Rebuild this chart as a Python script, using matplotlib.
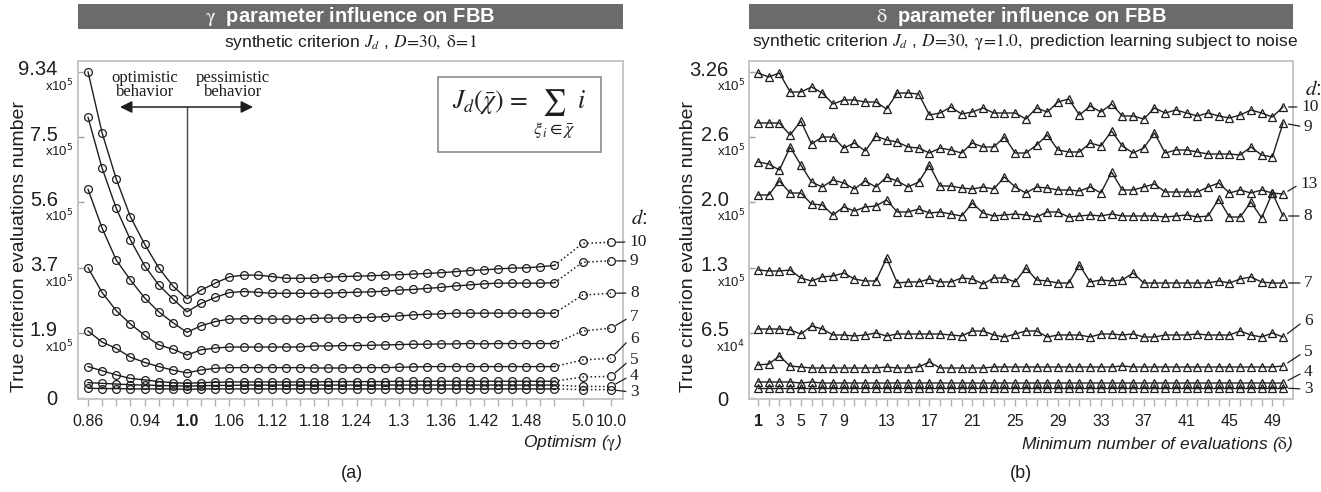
import numpy as np
import matplotlib
matplotlib.use("Agg")
import matplotlib.pyplot as plt
from matplotlib.patches import Rectangle
from matplotlib.transforms import ScaledTranslation
from matplotlib import font_manager

plt.rcParams['font.family'] = ['Liberation Sans', 'DejaVu Sans']
plt.rcParams['mathtext.fontset'] = 'stix'

# ---------------- data : panel (a) ----------------
gamma_values = [0.86, 0.88, 0.90, 0.92, 0.94, 0.96, 0.98, 1.00, 1.02, 1.04,
                1.06, 1.08, 1.10, 1.12, 1.14, 1.16, 1.18, 1.20, 1.22, 1.24,
                1.26, 1.28, 1.30, 1.32, 1.34, 1.36, 1.38, 1.40, 1.42, 1.44,
                1.46, 1.48, 1.50, 1.52, 5.0, 10.0]
gamma_tick_values = [0.86, 0.94, 1.00, 1.06, 1.12, 1.18, 1.24, 1.30, 1.36, 1.42, 1.48, 5.0, 10.0]
gamma_tick_labels = ['0.86', '0.94', '1.0', '1.06', '1.12', '1.18', '1.24', '1.3', '1.36', '1.42', '1.48', '5.0', '10.0']

# true criterion evaluations (x 1e5), one list per subset size d
gam_d10 = [9.34, 7.59, 6.27, 5.19, 4.41, 3.73, 3.21, 2.84, 3.09, 3.29, 3.47, 3.52, 3.52, 3.48, 3.43, 3.43, 3.43, 3.46,
           3.48, 3.49, 3.50, 3.52, 3.53, 3.55, 3.57, 3.59, 3.62, 3.65, 3.67, 3.70, 3.72, 3.73, 3.76, 3.80, 4.43, 4.46]
gam_d9 = [8.04, 6.58, 5.43, 4.53, 3.79, 3.24, 2.84, 2.47, 2.71, 2.88, 3.02, 3.05, 3.03, 3.00, 3.00, 3.00, 3.00, 3.00,
          3.02, 3.03, 3.04, 3.06, 3.09, 3.11, 3.14, 3.17, 3.21, 3.24, 3.27, 3.29, 3.29, 3.29, 3.29, 3.30, 3.89, 3.93]
gam_d8 = [5.98, 4.86, 3.95, 3.38, 2.87, 2.47, 2.16, 1.88, 2.07, 2.19, 2.26, 2.27, 2.27, 2.26, 2.26, 2.26, 2.28, 2.29,
          2.29, 2.30, 2.31, 2.33, 2.35, 2.38, 2.40, 2.41, 2.43, 2.43, 2.43, 2.43, 2.43, 2.43, 2.43, 2.43, 2.95, 3.00]
gam_d7 = [3.73, 3.02, 2.50, 2.12, 1.80, 1.52, 1.40, 1.23, 1.38, 1.43, 1.46, 1.46, 1.46, 1.46, 1.46, 1.46, 1.49, 1.49,
          1.50, 1.50, 1.51, 1.52, 1.53, 1.54, 1.54, 1.55, 1.55, 1.56, 1.55, 1.56, 1.56, 1.56, 1.56, 1.56, 1.92, 2.00]
gam_d6 = [1.92, 1.60, 1.42, 1.17, 1.02, 0.90, 0.80, 0.72, 0.80, 0.85, 0.87, 0.87, 0.87, 0.87, 0.87, 0.87, 0.86, 0.86,
          0.86, 0.87, 0.87, 0.87, 0.88, 0.89, 0.90, 0.90, 0.90, 0.90, 0.90, 0.90, 0.90, 0.90, 0.90, 0.90, 1.09, 1.14]
gam_d5 = [0.90, 0.78, 0.66, 0.56, 0.52, 0.47, 0.44, 0.42, 0.44, 0.45, 0.46, 0.46, 0.46, 0.46, 0.46, 0.46, 0.46, 0.47,
          0.47, 0.47, 0.47, 0.47, 0.48, 0.48, 0.48, 0.48, 0.48, 0.48, 0.48, 0.48, 0.48, 0.48, 0.48, 0.48, 0.60, 0.62]
gam_d4 = [0.44, 0.42, 0.40, 0.38, 0.37, 0.36, 0.35, 0.34, 0.35, 0.36, 0.36, 0.37, 0.37, 0.37, 0.37, 0.37, 0.37, 0.37,
          0.37, 0.37, 0.37, 0.37, 0.37, 0.37, 0.37, 0.37, 0.37, 0.37, 0.37, 0.37, 0.37, 0.37, 0.37, 0.37, 0.33, 0.33]
gam_d3 = [0.28, 0.27, 0.27, 0.26, 0.26, 0.26, 0.26, 0.25, 0.26, 0.26, 0.26, 0.26, 0.26, 0.26, 0.26, 0.26, 0.26, 0.26,
          0.26, 0.26, 0.26, 0.26, 0.26, 0.26, 0.26, 0.26, 0.26, 0.26, 0.26, 0.26, 0.26, 0.26, 0.26, 0.26, 0.24, 0.24]

# ---------------- data : panel (b) ----------------
delta_values = list(range(1, 51))
delta_tick_values = [1, 3, 5, 7, 9, 13, 17, 21, 25, 29, 33, 37, 41, 45, 49]

# true criterion evaluations (x 1e3)
dl_d10 = [325, 321, 325, 306, 306, 311, 305, 294, 298, 298, 296, 296, 289, 305, 305, 304, 283, 285, 291, 284,
          286, 290, 285, 285, 285, 279, 290, 286, 296, 299, 283, 292, 286, 294, 282, 282, 279, 290, 285, 288,
          285, 282, 285, 282, 280, 283, 288, 285, 281, 291]
dl_d9 = [275, 275, 275, 263, 277, 254, 261, 261, 250, 255, 247, 262, 258, 256, 251, 250, 245, 250, 248, 245,
         255, 251, 251, 261, 245, 245, 253, 263, 248, 246, 246, 255, 252, 267, 252, 245, 250, 265, 245, 248,
         248, 246, 244, 244, 244, 243, 251, 243, 241, 275]
dl_d13 = [236, 234, 228, 251, 233, 216, 211, 218, 215, 209, 217, 211, 221, 217, 211, 216, 233, 212, 212, 210,
          209, 211, 209, 221, 211, 205, 211, 210, 208, 208, 207, 211, 205, 226, 208, 208, 211, 214, 206, 206,
          206, 206, 211, 215, 205, 208, 205, 208, 205, 204]
dl_d8 = [203, 203, 217, 205, 205, 194, 193, 183, 191, 187, 191, 192, 198, 186, 186, 189, 185, 186, 184, 182,
         195, 185, 182, 183, 184, 183, 181, 186, 186, 181, 182, 183, 182, 184, 182, 182, 182, 182, 181, 182,
         183, 181, 182, 199, 181, 181, 196, 180, 205, 182]
dl_d7 = [128, 127, 127, 128, 120, 117, 121, 122, 125, 119, 117, 117, 140, 115, 116, 116, 119, 116, 116, 120,
         119, 114, 120, 120, 116, 130, 118, 117, 115, 115, 133, 116, 118, 117, 118, 125, 115, 115, 115, 115,
         115, 115, 115, 117, 115, 119, 121, 116, 115, 115]
dl_d6 = [69, 69, 69, 68, 64, 72, 69, 63, 63, 62, 63, 65, 62, 64, 64, 64, 64, 64, 63, 62,
         67, 67, 63, 61, 64, 67, 67, 61, 63, 63, 63, 61, 64, 64, 63, 64, 61, 61, 63, 63,
         63, 64, 63, 63, 63, 67, 63, 61, 65, 61]
dl_d5 = [33, 34, 42, 32, 31, 30, 30, 30, 30, 30, 30, 30, 31, 30, 30, 31, 36, 30, 30, 30,
         30, 30, 31, 31, 31, 31, 31, 31, 31, 31, 31, 31, 31, 31, 32, 31, 31, 31, 31, 31,
         31, 31, 31, 31, 31, 31, 31, 31, 31, 32]
dl_d4 = [16, 16, 16, 16, 15, 16, 15, 15, 15, 15, 15, 15, 15, 15, 15, 15, 15, 15, 15, 15,
         15, 15, 15, 15, 15, 15, 15, 15, 15, 15, 15, 15, 15, 15, 15, 15, 15, 15, 15, 15,
         15, 15, 15, 15, 15, 15, 15, 15, 15, 15]
dl_d3 = [10, 10, 10, 10, 10, 10, 10, 10, 10, 10, 10, 10, 10, 10, 10, 10, 10, 10, 10, 10,
         10, 10, 10, 10, 10, 10, 10, 10, 10, 10, 10, 10, 10, 10, 10, 10, 10, 10, 10, 10,
         10, 10, 10, 10, 10, 10, 10, 10, 10, 10]

left_series = {'10': gam_d10, '9': gam_d9, '8': gam_d8, '7': gam_d7,
               '6': gam_d6, '5': gam_d5, '4': gam_d4, '3': gam_d3}
right_series = {'10': dl_d10, '9': dl_d9, '13': dl_d13, '8': dl_d8, '7': dl_d7,
                '6': dl_d6, '5': dl_d5, '4': dl_d4, '3': dl_d3}

left_ytick_labels = ['0', '1.9', '3.7', '5.6', '7.5', '9.34']
left_ytick_mult = ['', '5', '5', '5', '5', '5']
right_ytick_labels = ['0', '6.5', '1.3', '2.0', '2.6', '3.26']
right_ytick_mult = ['', '4', '5', '5', '5', '5']

# ---------------- layout helpers ----------------
W, H = 1321, 492
INK = '#1e1e1e'
fig = plt.figure(figsize=(W / 100, H / 100), dpi=100)

_names = {f.name for f in font_manager.fontManager.ttflist}
XT_FAMILY = ['Liberation Sans Narrow'] if 'Liberation Sans Narrow' in _names else ['Liberation Sans']
XT_SIZE = 14 if 'Liberation Sans Narrow' in _names else 11.5


def px_rect(x0, y0, x1, y1):
    return [x0 / W, 1 - y1 / H, (x1 - x0) / W, (y1 - y0) / H]


def fx(x):
    return x / W


def fy(y):
    return 1 - y / H


axL = fig.add_axes(px_rect(78, 61, 623, 399))
axR = fig.add_axes(px_rect(749, 61, 1293, 399))

for ax in (axL, axR):
    for s in ax.spines.values():
        s.set_color('#c6c6c6')
        s.set_linewidth(1.4)
    ax.tick_params(axis='y', direction='in', length=4, width=1, color='#a0a0a0',
                   pad=14.5, labelsize=14.5, labelcolor=INK)
    ax.tick_params(axis='x', which='both', direction='out', length=5, width=1,
                   color='#b0b0b0', pad=6, labelsize=XT_SIZE, labelcolor=INK)

shift_up = ScaledTranslation(0, 4 / 100, fig.dpi_scale_trans)

# ---------------- panel (a) ----------------
n_main = sum(1 for g in gamma_values if g < 2)
idx = np.arange(len(gamma_values))
xpos = idx + np.clip(idx - n_main + 1, 0, None)
pos_of = {g: p for g, p in zip(gamma_values, xpos)}

for name, vals in left_series.items():
    v = np.array(vals) * 1e5
    axL.plot(xpos[:n_main], v[:n_main], '-', color=INK, lw=1.0, zorder=3)
    axL.plot(xpos[n_main - 1:], v[n_main - 1:], ':', color=INK, lw=1.1, zorder=3)
    axL.plot(xpos, v, 'o', ms=5.6, mfc='none', mec=INK, mew=0.9, zorder=4)

ytop_L = 9.34e5
axL.set_ylim(-0.0287e5, 9.655e5)
axL.set_xlim(-0.71, xpos[-1] + 0.85)
axL.set_xticks([pos_of[g] for g in gamma_tick_values])
axL.set_xticklabels(gamma_tick_labels, family=XT_FAMILY)
axL.set_xticks(xpos, minor=True)
for t in axL.get_xticklabels():
    if t.get_text() == '1.0':
        t.set_fontweight('bold')
yt = np.linspace(0, ytop_L, 6)
axL.set_yticks(yt)
axL.set_yticklabels(left_ytick_labels)
for lab in axL.get_yticklabels()[1:]:
    lab.set_transform(lab.get_transform() + shift_up)
for t, m in zip(yt, left_ytick_mult):
    if m:
        axL.annotate('x10$^{%s}$' % m, xy=(0, t), xycoords=axL.get_yaxis_transform(),
                     xytext=(-5, -14), textcoords='offset pixels', ha='right', va='center',
                     fontsize=9.5, color=INK, math_fontfamily='dejavusans', annotation_clip=False)

# gamma = 1.0 marker line & arrow
x1 = pos_of[1.00]
y_lo = (gam_d10[gamma_values.index(1.00)] * 1e5 + 0.12e5 - axL.get_ylim()[0]) / (axL.get_ylim()[1] - axL.get_ylim()[0])
axL.axvline(x1, ymin=y_lo, ymax=(399 - 107) / 338, color='#444444', lw=1.0, zorder=2)
axL.annotate('', xy=(253, H - 107), xycoords='figure pixels', xytext=(120, H - 107),
             textcoords='figure pixels',
             arrowprops=dict(arrowstyle='<|-|>', color=INK, lw=1.1, mutation_scale=18,
                             shrinkA=0, shrinkB=0))
fig.text(fx(145), fy(85), 'optimistic\nbehavior', ha='center', va='center',
         family='Liberation Serif', fontsize=12, linespacing=0.8, color=INK)
fig.text(fx(233), fy(85), 'pessimistic\nbehavior', ha='center', va='center',
         family='Liberation Serif', fontsize=12, linespacing=0.8, color=INK)

# formula box
fig.add_artist(Rectangle((fx(438), fy(152)), (601 - 438) / W, (152 - 77) / H,
                         transform=fig.transFigure, facecolor='white',
                         edgecolor='#8a8a8a', lw=1.2, zorder=5))
fig.text(fx(519), fy(114), r'$J_d(\bar{\chi})\, =\, \sum_{\xi_i \in \bar{\chi}}\; i$',
         ha='center', va='center', fontsize=18.5, color=INK, zorder=6)

# curve labels (a)
lab_L = {'10': (629, 242), '9': (630, 261), '8': (630, 293), '7': (630, 317),
         '6': (630, 339), '5': (630, 360), '4': (630, 376), '3': (630, 392)}
for name, (tx, ty) in lab_L.items():
    axL.annotate(name, xy=(xpos[-1], left_series[name][-1] * 1e5), xycoords='data',
                 xytext=(tx, H - ty), textcoords='figure pixels', ha='left', va='center',
                 fontsize=12.5, family='Liberation Serif', color=INK, annotation_clip=False,
                 arrowprops=dict(arrowstyle='-', color=INK, lw=0.9, shrinkA=1, shrinkB=4,
                                 relpos=(0, 0.5)))
fig.text(fx(631), fy(218), r'$d$:', ha='left', va='center', fontsize=15, color=INK)

# ---------------- panel (b) ----------------
for name, vals in right_series.items():
    v = np.array(vals) * 1e3
    axR.plot(delta_values, v, '-', color=INK, lw=1.0, zorder=3)
    axR.plot(delta_values, v, '^', ms=5.6, mfc='none', mec=INK, mew=0.9, zorder=4)

ytop_R = 3.26e5
axR.set_ylim(-1e3, 3.37e5)
axR.set_xlim(0.16, 50.93)
axR.set_xticks(delta_tick_values)
axR.set_xticklabels([str(d) for d in delta_tick_values], family=XT_FAMILY)
axR.set_xticks(delta_values, minor=True)
axR.get_xticklabels()[0].set_fontweight('bold')
yt = np.linspace(0, ytop_R, 6)
axR.set_yticks(yt)
axR.set_yticklabels(right_ytick_labels)
for lab in axR.get_yticklabels()[1:]:
    lab.set_transform(lab.get_transform() + shift_up)
for t, m in zip(yt, right_ytick_mult):
    if m:
        axR.annotate('x10$^{%s}$' % m, xy=(0, t), xycoords=axR.get_yaxis_transform(),
                     xytext=(-4, -14), textcoords='offset pixels', ha='right', va='center',
                     fontsize=9.5, color=INK, math_fontfamily='dejavusans', annotation_clip=False)

lab_R = {'10': (1301, 107), '9': (1304, 127), '13': (1300, 184), '8': (1303, 216),
         '7': (1304, 283), '6': (1304, 321), '5': (1304, 352), '4': (1304, 372), '3': (1304, 389)}
for name, (tx, ty) in lab_R.items():
    axR.annotate(name, xy=(delta_values[-1], right_series[name][-1] * 1e3), xycoords='data',
                 xytext=(tx, H - ty), textcoords='figure pixels', ha='left', va='center',
                 fontsize=12.5, family='Liberation Serif', color=INK, annotation_clip=False,
                 arrowprops=dict(arrowstyle='-', color=INK, lw=0.9, shrinkA=1, shrinkB=4,
                                 relpos=(0, 0.5)))
fig.text(fx(1305), fy(90), r'$d$:', ha='left', va='center', fontsize=15, color=INK)

# ---------------- titles, labels ----------------
for (x0, x1b), ttl in (((78, 623), r'$\mathrm{\gamma}$  parameter influence on FBB'),
                       ((749, 1293), r'$\mathrm{\delta}$  parameter influence on FBB')):
    fig.add_artist(Rectangle((fx(x0), fy(29)), (x1b - x0) / W, 25 / H,
                             transform=fig.transFigure, facecolor='#6b6b6b',
                             edgecolor='none'))
    fig.text(fx((x0 + x1b) / 2), fy(16.5), ttl, ha='center', va='center', color='white',
             fontsize=14.5, fontweight='bold')

fig.text(fx(351), fy(43), r'synthetic criterion $J_{d}$ , $D\!=\!30,\ \mathrm{\delta}\!=\!1$',
         ha='center', va='center', fontsize=12.5, color=INK)
fig.text(fx(1025), fy(42),
         r'synthetic criterion $J_{d}$ , $D\!=\!30,\ \mathrm{\gamma}\!=\!1.0,$ prediction learning subject to noise',
         ha='center', va='center', fontsize=12.5, color=INK)

fig.text(fx(20), fy(246), 'True criterion evaluations number', rotation=90,
         ha='center', va='center', fontsize=14, color=INK)
fig.text(fx(689), fy(246), 'True criterion evaluations number', rotation=90,
         ha='center', va='center', fontsize=14, color=INK)

fig.text(fx(622), fy(443), r'Optimism ($\mathrm{\gamma}$)', ha='right', va='center',
         fontsize=12.5, style='italic', color=INK)
fig.text(fx(1293), fy(445), r'Minimum number of evaluations ($\mathrm{\delta}$)', ha='right',
         va='center', fontsize=12.5, style='italic', color=INK)

fig.text(fx(352), fy(473), '(a)', ha='center', va='center', fontsize=13, color=INK)
fig.text(fx(1021), fy(473), '(b)', ha='center', va='center', fontsize=13, color=INK)

fig.savefig('out.png', dpi=100)
